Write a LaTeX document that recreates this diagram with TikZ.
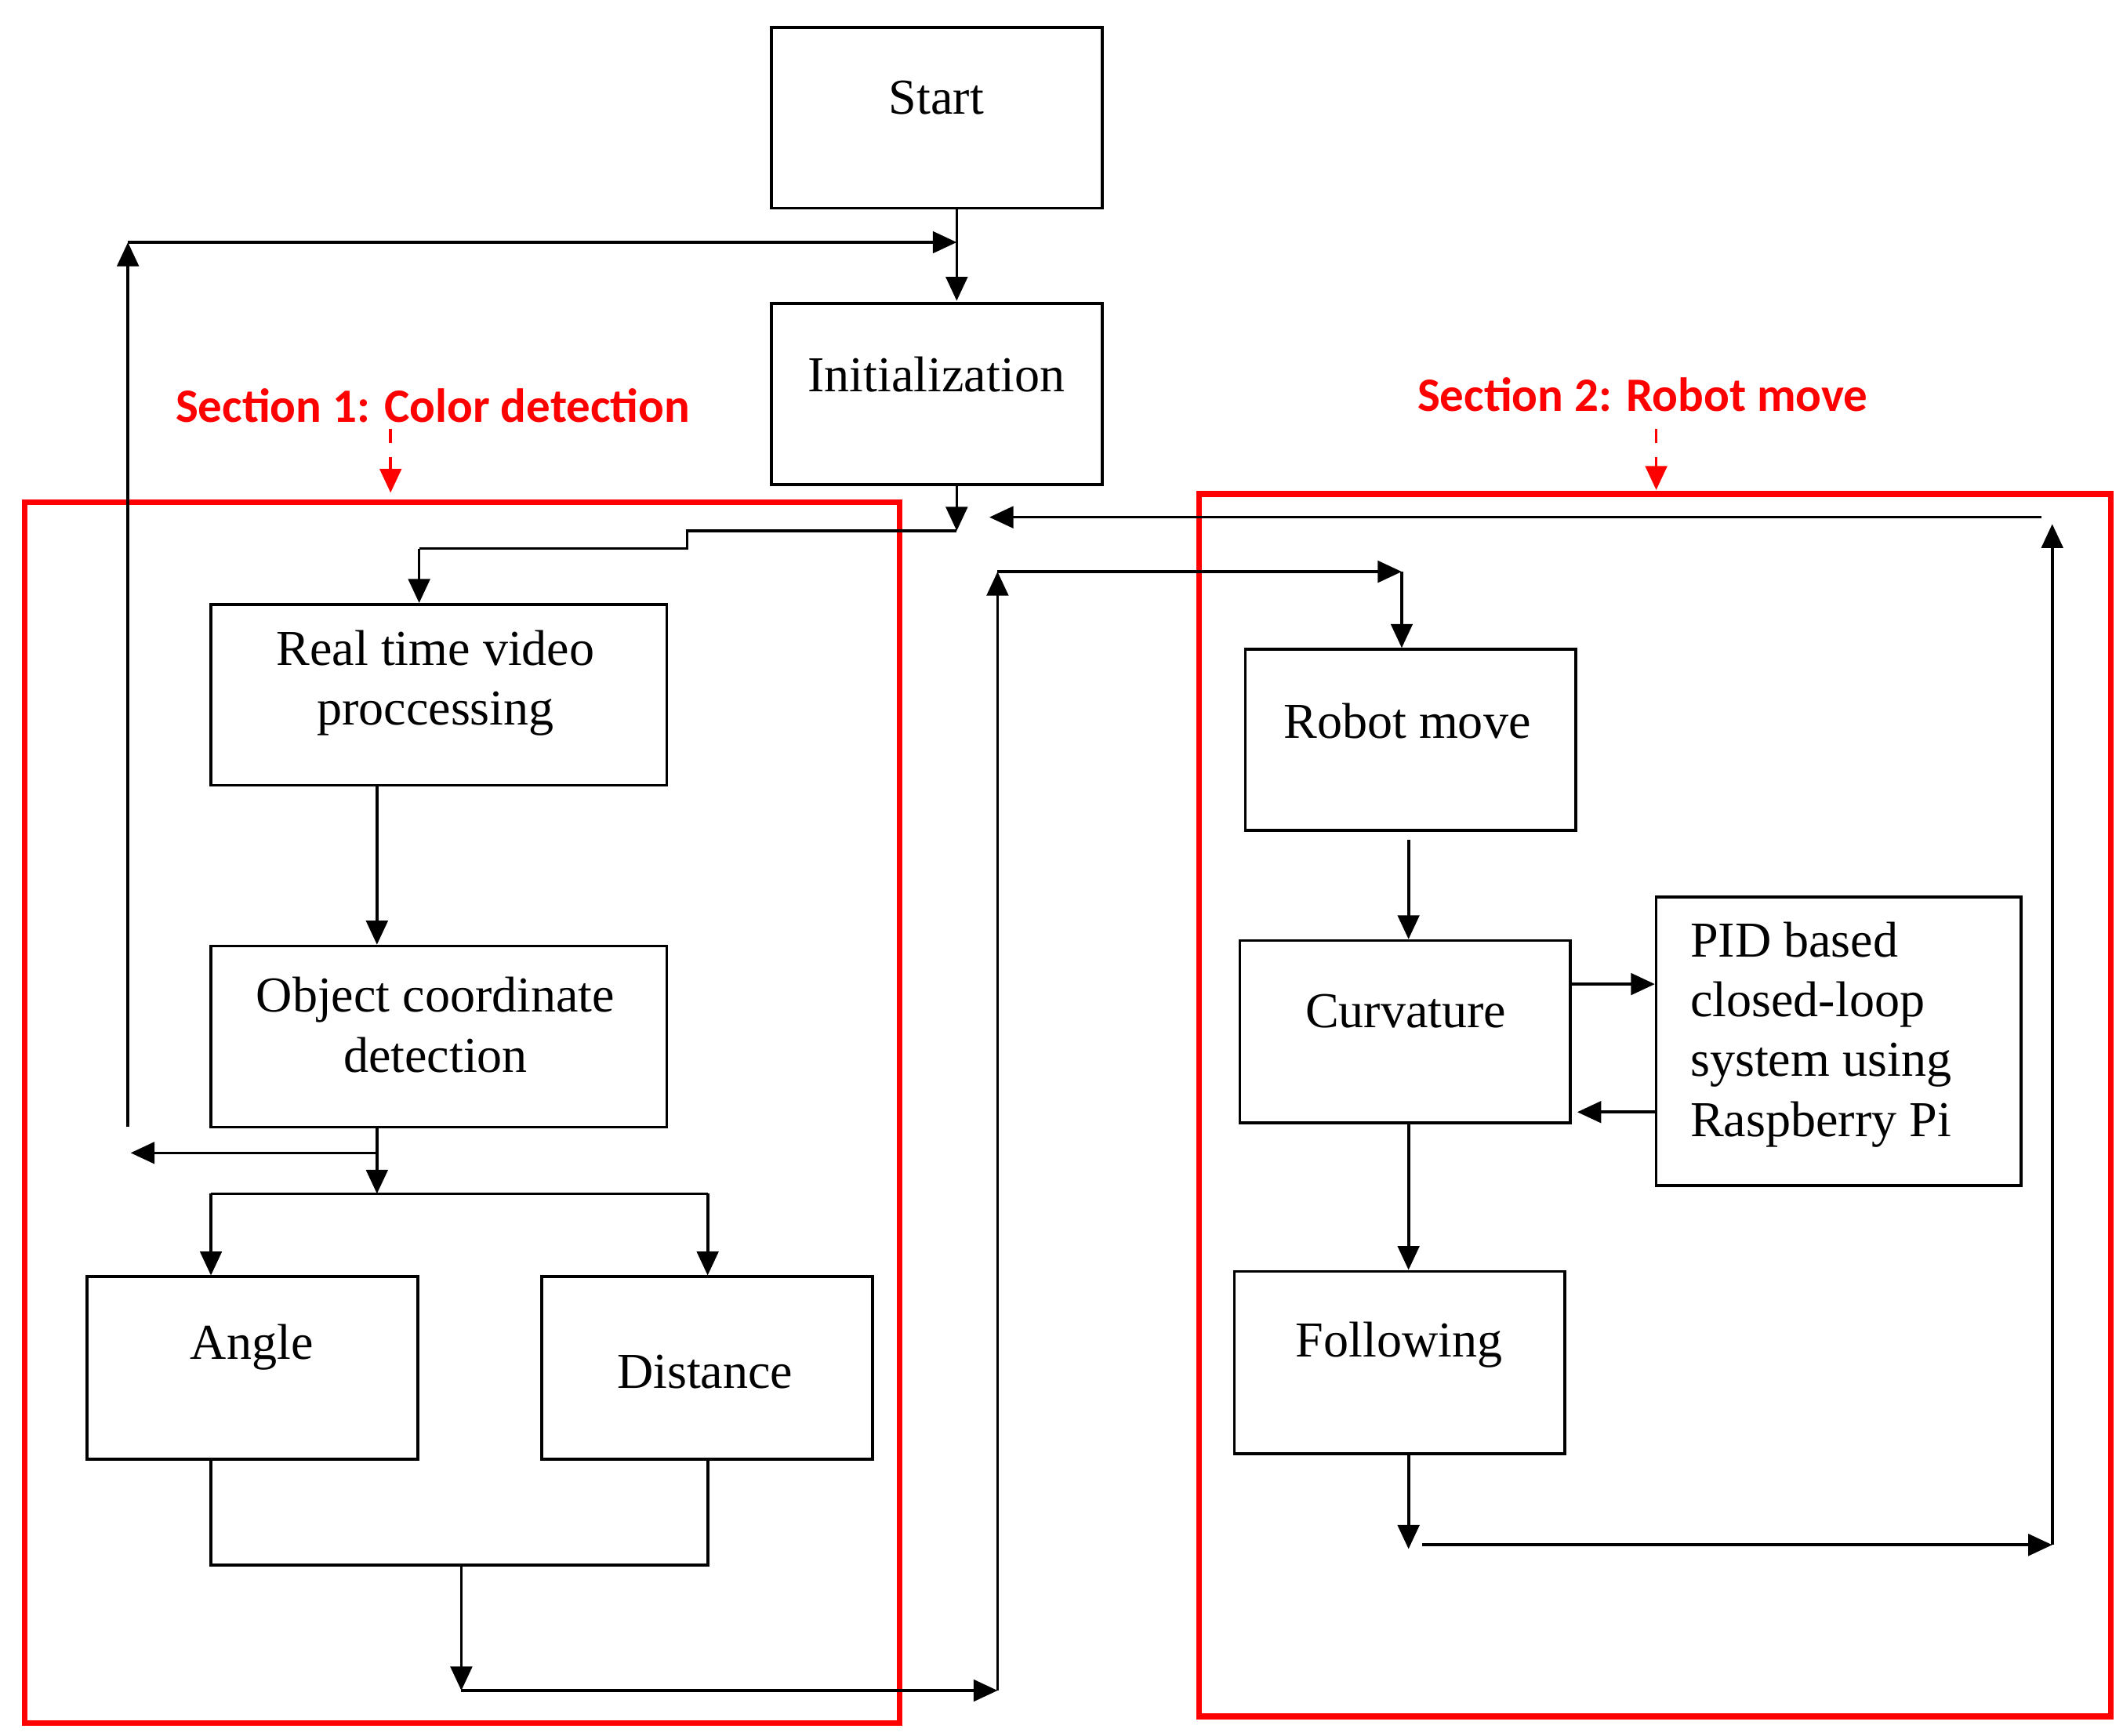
\documentclass[tikz,border=0pt]{standalone}
\usepackage{fontspec}
\setmainfont{Liberation Serif}
\newfontfamily\secfont{Carlito}
\usetikzlibrary{arrows.meta}
\begin{document}
\begin{tikzpicture}[x=0.01cm,y=-0.01cm,
 box/.style={draw,line width=0.6pt},
 txt/.style={font=\fontsize{10.5}{12.5}\selectfont,align=center},
 ln/.style={line width=0.6pt},
 arr/.style={ln,-{Triangle[length=5pt,width=4.5pt]}},
 red box/.style={draw=red,line width=1.2pt},
 sec/.style={text=red,font=\secfont\bfseries\fontsize{10}{12}\selectfont},
 secarr/.style={red,dashed,line width=0.6pt,-{Triangle[length=5pt,width=4.5pt]}}]
\useasboundingbox (0,0) rectangle (1560,1275);
% red sections
\draw[red box] (18,369) rectangle (661,1266);
\draw[red box] (881,363) rectangle (1551,1261);
\node[sec] (s1) at (318,298) {Section 1: Color detection};
\node[sec] (s2) at (1207,290) {Section 2: Robot move};
\coordinate (s1a) at (287,315); \coordinate (s1b) at (287,362);
\coordinate (s2a) at (1217,315); \coordinate (s2b) at (1217,360);
\draw[secarr] (s1a) -- (s1b);
\draw[secarr] (s2a) -- (s2b);
% boxes
\draw[box] (567,20) rectangle (810,153); \node[txt] (start) at (688,72) {Start};
\draw[box] (567,223) rectangle (810,356); \node[txt] (init) at (688,275) {Initialization};
\draw[box] (155,444) rectangle (490,577); \node[txt] (rt) at (320,502) {Real time video\\proccessing};
\draw[box] (155,695) rectangle (490,828); \node[txt] (oc) at (320,753) {Object coordinate\\detection};
\draw[box] (64,938) rectangle (307,1072); \node[txt] (ang) at (185,990) {Angle};
\draw[box] (398,938) rectangle (641,1072); \node[txt] (dist) at (518,1008) {Distance};
\draw[box] (915,477) rectangle (1158,610); \node[txt] (rm) at (1034,530) {Robot move};
\draw[box] (911,691) rectangle (1154,825); \node[txt] (cur) at (1033,743) {Curvature};
\draw[box] (1217,659) rectangle (1485,871); \node[txt,align=left] (pid) at (1338,760) {PID based\\closed-loop\\system using\\Raspberry Pi};
\draw[box] (907,934) rectangle (1150,1068); \node[txt] (fol) at (1028,988) {Following};
% connectors
\draw[arr] (703,153) -- (703,221);
\draw[arr] (94,828) -- (94,178);
\draw[arr] (94,178) -- (703,178);
\draw[arr] (703,356) -- (703,390);
\draw[ln] (703,390) -- (505,390) -- (505,403) -- (308,403);
\draw[arr] (308,403) -- (308,443);
\draw[arr] (277,577) -- (277,694);
\draw[arr] (277,828) -- (277,877);
\draw[arr] (277,847) -- (96,847);
\draw[ln] (155,877) -- (520,877);
\draw[arr] (155,877) -- (155,937);
\draw[arr] (520,877) -- (520,937);
\draw[ln] (155,1072) -- (155,1150) -- (520,1150) -- (520,1072);
\draw[arr] (339,1150) -- (339,1242);
\draw[arr] (339,1242) -- (733,1242);
\draw[arr] (733,1242) -- (733,420);
\draw[arr] (733,420) -- (1030,420);
\draw[arr] (1030,420) -- (1030,476);
\draw[arr] (1035,617) -- (1035,690);
\draw[arr] (1154,723) -- (1216,723);
\draw[arr] (1217,817) -- (1159,817);
\draw[arr] (1035,825) -- (1035,933);
\draw[arr] (1035,1068) -- (1035,1138);
\draw[arr] (1045,1135) -- (1508,1135);
\draw[arr] (1508,1135) -- (1508,385);
\draw[arr] (1500,380) -- (727,380);
\end{tikzpicture}
\end{document}
